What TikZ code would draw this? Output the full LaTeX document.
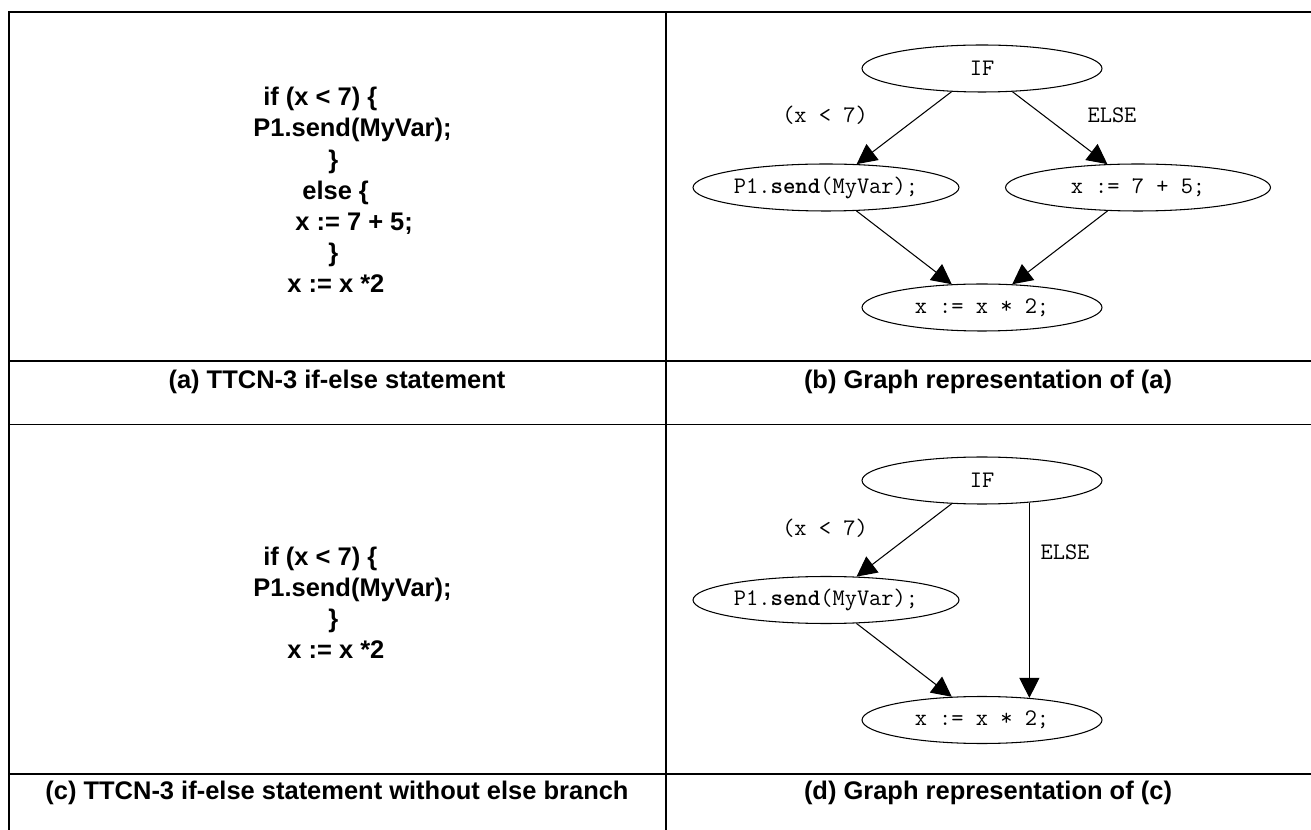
\documentclass[tikz,border=0pt]{standalone}
\usepackage{fontspec}
\setmainfont{Liberation Sans}
\usetikzlibrary{shapes.geometric, arrows.meta, positioning}

\tikzset{
  rule/.style={line width=0.9pt},
  code/.style={anchor=base west, inner sep=0pt, font=\fontsize{14.5}{17}\selectfont\bfseries},
  caption/.style={font=\fontsize{14.5}{17}\selectfont\bfseries},
  stmt/.style={draw, ellipse, semithick, minimum width=4.8cm, minimum height=0.94cm,
    inner xsep=-0.3cm, inner ysep=0pt, font=\fontsize{13.5}{16}\selectfont\ttfamily},
  wide/.style={minimum width=5.32cm},
  guard/.style={inner sep=0pt, font=\fontsize{13.5}{16}\selectfont\ttfamily},
  flow/.style={semithick, -{Triangle[length=0.4cm, width=0.4cm]}}
}

\begin{document}
\begin{tikzpicture}[x=0.02cm, y=-0.02cm]
  \useasboundingbox (0,0) rectangle (1311,830);

  % table grid
  \draw[rule] (8.8,830) -- (8.8,12.2) -- (1311,12.2);
  \draw[rule] (666,12.2) -- (666,830);
  \draw[rule] (8.8,361) -- (1311,361);
  \draw[rule] (8.8,424.5) -- (1311,424.5);
  \draw[rule] (8.8,774) -- (1311,774);

  % (a) code
  \node[code] (a1) at (263,106) {if (x < 7) \{};
  \node[code] (a2) at (253,137) {P1.send(MyVar);};
  \node[code] (a3) at (328,168.5) {\}};
  \node[code] (a4) at (302,200) {else \{};
  \node[code] (a5) at (295,231) {x := 7 + 5;};
  \node[code] (a6) at (328,262) {\}};
  \node[code] (a7) at (287,293) {x := x *2};

  % (b) graph
  \node[stmt] (if1) at (982,68.5) {IF};
  \node[stmt, wide] (send1) at (826,187.5) {P1.\textbf{send}(MyVar);};
  \node[stmt, minimum width=5.3cm] (add1) at (1138,187.5) {x := 7 + 5;};
  \node[stmt] (mul1) at (982,307.5) {x := x * 2;};
  \draw[flow] (if1) -- (send1);
  \draw[flow] (if1) -- (add1);
  \draw[flow] (send1) -- (mul1);
  \draw[flow] (add1) -- (mul1);
  \node[guard] (then1) at (825,115) {(x < 7)};
  \node[guard] (else1) at (1112,115) {ELSE};

  % captions, first row
  \node[caption] (capA) at (337,382) {(a) TTCN-3 if-else statement};
  \node[caption] (capB) at (988,382) {(b) Graph representation of (a)};

  % (c) code
  \node[code] (c1) at (263,565.5) {if (x < 7) \{};
  \node[code] (c2) at (253,596.5) {P1.send(MyVar);};
  \node[code] (c3) at (328,627.5) {\}};
  \node[code] (c4) at (287,658.5) {x := x *2};

  % (d) graph
  \node[stmt] (if2) at (982,480.5) {IF};
  \node[stmt, wide] (send2) at (826,600) {P1.\textbf{send}(MyVar);};
  \node[stmt] (mul2) at (982,720) {x := x * 2;};
  \draw[flow] (if2) -- (send2);
  \draw[flow] (send2) -- (mul2);
  \draw[flow] (if2.-25) -- (mul2.25);
  \node[guard] (then2) at (825,528) {(x < 7)};
  \node[guard] (else2) at (1065,552) {ELSE};

  % captions, second row
  \node[caption] (capC) at (337,792.5) {(c) TTCN-3 if-else statement without else branch};
  \node[caption] (capD) at (988,792.5) {(d) Graph representation of (c)};
\end{tikzpicture}
\end{document}
